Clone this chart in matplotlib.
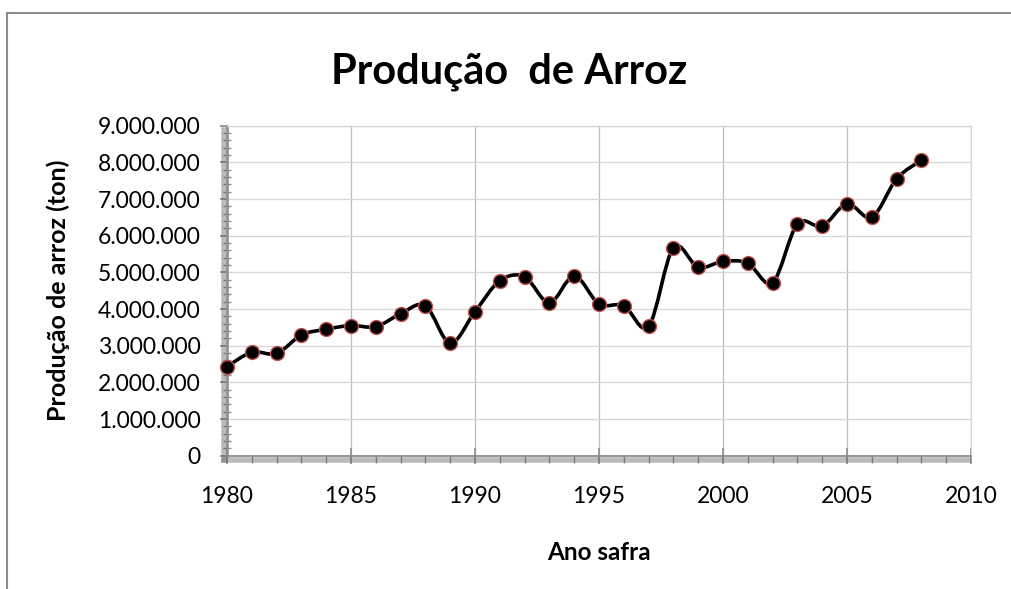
"""
Produção de Arroz - gráfico de linha suavizada (estilo Excel)
"""
import matplotlib
matplotlib.use('Agg')
import matplotlib.pyplot as plt
import numpy as np
from matplotlib.path import Path
from matplotlib.patches import PathPatch, Rectangle
from matplotlib.ticker import FuncFormatter, MultipleLocator
import matplotlib.patheffects as pe

plt.rcParams['font.family'] = ['Lato', 'DejaVu Sans']

# dados
anos = [1980, 1981, 1982, 1983, 1984, 1985, 1986, 1987, 1988, 1989,
        1990, 1991, 1992, 1993, 1994, 1995, 1996, 1997, 1998, 1999,
        2000, 2001, 2002, 2003, 2004, 2005, 2006, 2007, 2008]
producao = [2430000, 2820000, 2790000, 3290000, 3450000, 3550000, 3520000,
            3870000, 4090000, 3070000, 3930000, 4770000, 4880000, 4170000,
            4900000, 4140000, 4090000, 3530000, 5670000, 5140000, 5300000,
            5250000, 4720000, 6320000, 6260000, 6870000, 6500000, 7550000,
            8060000]

titulo = 'Produção  de Arroz'
rotulo_x = 'Ano safra'
rotulo_y = 'Produção de arroz (ton)'


def curva_suave(x, y):
    # curva de Bezier tipo Catmull-Rom (como a linha suavizada do Excel)
    pts = np.column_stack([x, y]).astype(float)
    n = len(pts)
    verts = [pts[0]]
    codes = [Path.MOVETO]
    for i in range(n - 1):
        p0 = pts[i - 1] if i > 0 else pts[i]
        p1 = pts[i]
        p2 = pts[i + 1]
        p3 = pts[i + 2] if i + 2 < n else pts[i + 1]
        c1 = p1 + (p2 - p0) / 6.0
        c2 = p2 - (p3 - p1) / 6.0
        verts += [c1, c2, p2]
        codes += [Path.CURVE4] * 3
    return Path(verts, codes)


fig = plt.figure(figsize=(10.12, 5.89), dpi=100)

# borda externa do gráfico
fig.patches.append(Rectangle((7 / 1012, -0.1), 1.2, 1 - 13 / 589 + 0.1,
                             transform=fig.transFigure, fill=False,
                             edgecolor='#8c8c8c', linewidth=1.5))

ax = fig.add_axes([227 / 1012, 1 - 455.7 / 589, 744 / 1012, 330 / 589])

ax.set_xlim(1980, 2010)
ax.set_ylim(0, 9000000)

# grade
ax.yaxis.set_major_locator(MultipleLocator(1000000))
ax.yaxis.set_minor_locator(MultipleLocator(200000))
ax.xaxis.set_major_locator(MultipleLocator(5))
ax.xaxis.set_minor_locator(MultipleLocator(1))
ax.grid(True, axis='y', which='major', color='#d6d6d6', linewidth=0.9)
ax.grid(True, axis='x', which='major', color='#bcbcbc', linewidth=0.9)
ax.set_axisbelow(True)

for s in ['top', 'right']:
    ax.spines[s].set_color('#d6d6d6')
    ax.spines[s].set_linewidth(0.9)
sombra = [pe.SimpleLineShadow(offset=(-2, -3), shadow_color='#555555', alpha=0.4,
                              linewidth=4),
          pe.Normal()]
ax.spines['left'].set_color('#8c8c8c')
ax.spines['left'].set_linewidth(1.8)
ax.spines['left'].set_path_effects(sombra)
ax.spines['bottom'].set_color('#8c8c8c')
ax.spines['bottom'].set_linewidth(1.3)
ax.spines['bottom'].set_path_effects(sombra)

ax.tick_params(axis='both', which='major', color='#8c8c8c', length=5, width=1.2,
               labelsize=16.5, labelcolor='black')
ax.tick_params(axis='y', which='major', pad=14)
ax.tick_params(axis='x', which='major', direction='inout', length=12, pad=16)
ax.tick_params(axis='both', which='minor', color='#8c8c8c', length=5, width=1.0)
ax.tick_params(axis='y', which='minor', direction='inout', length=6)

ax.yaxis.set_major_formatter(FuncFormatter(lambda v, p: f'{int(v):,}'.replace(',', '.')))

# linha suavizada
ax.add_patch(PathPatch(curva_suave(anos, producao), facecolor='none',
                       edgecolor='black', linewidth=2.6, zorder=3))
ax.plot(anos, producao, linestyle='none', marker='o', markersize=10,
        markerfacecolor='black', markeredgecolor='#c0504d', markeredgewidth=1.0,
        zorder=4, clip_on=False)

ax.set_xlabel(rotulo_x, fontsize=17.5, fontweight='bold', va='center')
ax.xaxis.set_label_coords(0.5, (455.7 - 552) / 330)
ax.set_ylabel(rotulo_y, fontsize=18, fontweight='bold', va='center')
ax.yaxis.set_label_coords((58 - 227) / 744, 0.5)
fig.text(509 / 1012, 1 - 72 / 589, titulo, fontsize=30, fontweight='bold',
         ha='center', va='center')

plt.savefig('out.png', dpi=100)
